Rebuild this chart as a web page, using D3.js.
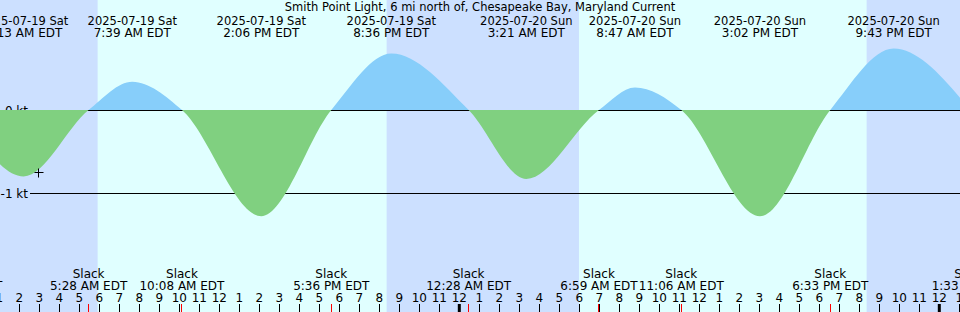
<!DOCTYPE html>
<html>
<head>
<meta charset="utf-8">
<script src="https://cdn.jsdelivr.net/npm/d3@7"></script>
<style>
  body { margin: 0; background: #fff; }
  svg { display: block; }
  text { font-family: "DejaVu Sans", sans-serif; font-size: 12px; fill: #000; }
  text.title, text.date { font-size: 11.5px; }
</style>
</head>
<body>
<div id="chart"></div>
<script>
const title = "Smith Point Light, 6 mi north of, Chesapeake Bay, Maryland Current";

// current events (local EDT wall clock)
const eventTimes = [
  "2025-07-18T23:03", "2025-07-19T02:13", "2025-07-19T05:28", "2025-07-19T07:39",
  "2025-07-19T10:08", "2025-07-19T14:06", "2025-07-19T17:36", "2025-07-19T20:36",
  "2025-07-20T00:28", "2025-07-20T03:21", "2025-07-20T06:59", "2025-07-20T08:47",
  "2025-07-20T11:06", "2025-07-20T15:02", "2025-07-20T18:33", "2025-07-20T21:43",
  "2025-07-21T01:33"
];
const eventKinds = [
  "slack", "ebb", "slack", "flood", "slack", "ebb", "slack", "flood",
  "slack", "ebb", "slack", "flood", "slack", "ebb", "slack", "flood", "slack"
];
const eventValues = [
  0, -0.80, 0, 0.34, 0, -1.28, 0, 0.68,
  0, -0.83, 0, 0.27, 0, -1.28, 0, 0.74, 0
];

const sunrises = ["2025-07-19T05:55", "2025-07-20T05:59"];
const sunsets = ["2025-07-19T20:22", "2025-07-20T20:22"];

const yTicks = [0, -1];
const yTickLabels = ["0 kt", "-1 kt"];

const nowTime = "2025-07-19T02:57";
const nowValue = -0.75;

const viewStart = "2025-07-19T01:02:06";
const viewEnd = "2025-07-21T01:02:06";

const width = 960, height = 312;
const parse = d3.utcParse("%Y-%m-%dT%H:%M");
const parseS = d3.utcParse("%Y-%m-%dT%H:%M:%S");
const fmtDate = d3.utcFormat("%Y-%m-%d %a");
const fmtTime = d3.utcFormat("%-I:%M %p EDT");

const events = eventTimes.map((t, i) => ({ t: parse(t), kind: eventKinds[i], v: eventValues[i] }));

const x = d3.scaleUtc().domain([parseS(viewStart), parseS(viewEnd)]).range([0, width]);
const y = d3.scaleLinear().domain([-1, 0]).range([193, 110]);
const y0 = y(0);

const svg = d3.select("#chart").append("svg")
  .attr("width", width).attr("height", height);

// night background + day bands
svg.append("rect").attr("width", width).attr("height", height).attr("fill", "#cce0ff");
svg.append("g").selectAll("rect")
  .data(sunrises.map((s, i) => [parse(s), parse(sunsets[i])]))
  .join("rect")
  .attr("x", (d) => x(d[0]))
  .attr("width", (d) => x(d[1]) - x(d[0]))
  .attr("y", 0).attr("height", height)
  .attr("fill", "#e0ffff");

const defs = svg.append("defs");
defs.append("clipPath").attr("id", "above")
  .append("rect").attr("x", 0).attr("y", 0).attr("width", width).attr("height", y0);
defs.append("clipPath").attr("id", "below")
  .append("rect").attr("x", 0).attr("y", y0).attr("width", width).attr("height", height - y0);

const area = d3.area()
  .x((d) => x(d.t))
  .y0(y0)
  .y1((d) => y(d.v))
  .curve(d3.curveMonotoneX);

// flood (above zero)
svg.append("path")
  .attr("d", area(events))
  .attr("fill", "#87cefa")
  .attr("clip-path", "url(#above)");

// reference lines
const gridG = svg.append("g");
gridG.selectAll("line")
  .data(yTicks)
  .join("line")
  .attr("x1", 30).attr("x2", width)
  .attr("y1", (d) => Math.round(y(d)) + 0.5).attr("y2", (d) => Math.round(y(d)) + 0.5)
  .attr("stroke", "#000").attr("stroke-width", 1);

// ebb (below zero)
svg.append("path")
  .attr("d", area(events))
  .attr("fill", "#80d080")
  .attr("clip-path", "url(#below)");

gridG.selectAll("text")
  .data(yTicks)
  .join("text")
  .attr("x", 28)
  .attr("y", (d) => Math.round(y(d)) + 4.5)
  .attr("text-anchor", "end")
  .text((d, i) => yTickLabels[i]);

// "now" marker
const nx = Math.round(x(parse(nowTime))) + 0.5, ny = Math.round(y(nowValue)) + 0.5;
svg.append("path")
  .attr("d", `M${nx - 4},${ny}H${nx + 5}M${nx},${ny - 4}V${ny + 5}`)
  .attr("stroke", "#000").attr("stroke-width", 1).attr("fill", "none");

// title
svg.append("text")
  .attr("class", "title")
  .attr("x", width / 2).attr("y", 11)
  .attr("text-anchor", "middle")
  .text(title);

// max / min labels at top
const peaks = events.filter((d) => d.kind !== "slack");
const topG = svg.append("g").attr("text-anchor", "middle");
topG.selectAll("text.date")
  .data(peaks)
  .join("text")
  .attr("class", "date")
  .attr("x", (d) => x(d.t)).attr("y", 25)
  .text((d) => fmtDate(d.t));
topG.selectAll("text.time")
  .data(peaks)
  .join("text")
  .attr("class", "time")
  .attr("x", (d) => x(d.t)).attr("y", 37)
  .text((d) => fmtTime(d.t));

// slack labels at bottom
const slacks = events.filter((d) => d.kind === "slack");
const botG = svg.append("g").attr("text-anchor", "middle");
botG.selectAll("text.slack")
  .data(slacks)
  .join("text")
  .attr("class", "slack")
  .attr("x", (d) => x(d.t)).attr("y", 278)
  .text("Slack");
botG.selectAll("text.time")
  .data(slacks)
  .join("text")
  .attr("class", "time")
  .attr("x", (d) => x(d.t)).attr("y", 290)
  .text((d) => fmtTime(d.t));

// hour axis
const hours = d3.utcHour.range(d3.utcHour.floor(x.domain()[0]), x.domain()[1]);
const axisG = svg.append("g");
axisG.selectAll("text")
  .data(hours)
  .join("text")
  .attr("x", (d) => x(d)).attr("y", 302)
  .attr("text-anchor", "middle")
  .text((d) => d.getUTCHours() % 12 || 12);
axisG.selectAll("rect.hour")
  .data(hours)
  .join("rect")
  .attr("class", "hour")
  .attr("x", (d) => d.getUTCHours() === 0 ? x(d) - 1.5 : Math.floor(x(d)))
  .attr("width", (d) => d.getUTCHours() === 0 ? 3 : 1)
  .attr("y", 304).attr("height", 8)
  .attr("fill", "#000");
axisG.selectAll("rect.slack")
  .data(slacks)
  .join("rect")
  .attr("class", "slack")
  .attr("x", (d) => Math.floor(x(d.t)))
  .attr("width", 1)
  .attr("y", 304).attr("height", 8)
  .attr("fill", "#ff0000");
</script>
</body>
</html>
